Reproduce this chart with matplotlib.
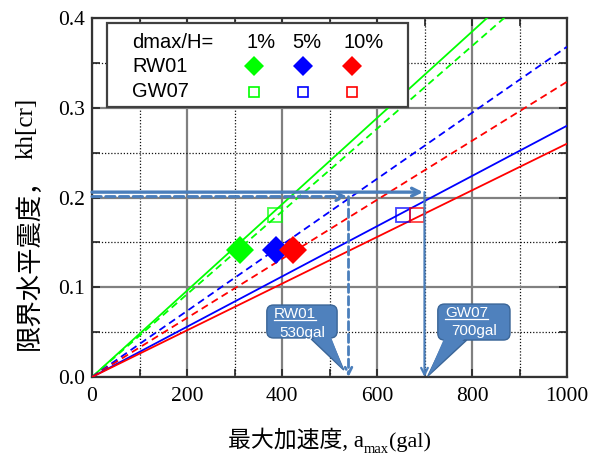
import matplotlib
matplotlib.use("Agg")
import matplotlib.pyplot as plt
from matplotlib.patches import FancyBboxPatch, Polygon, Rectangle
from matplotlib.lines import Line2D
import numpy as np

# ---------------- data ----------------
amax_range = [0, 1000]
# kh[cr] reached at amax = 1000 gal for each design line
line_names = ["RW01 1%", "GW07 1%", "GW07 5%", "GW07 10%", "RW01 5%", "RW01 10%"]
line_kh_at_1000 = [0.481, 0.461, 0.368, 0.329, 0.280, 0.260]
line_colors = ["#00FF00", "#00FF00", "#0000FF", "#FF0000", "#0000FF", "#FF0000"]
line_styles = ["-", "--", "--", "--", "-", "-"]

rw01_amax = [311, 388, 423]
rw01_kh = [0.142, 0.142, 0.142]
gw07_amax = [385, 654, 685]
gw07_kh = [0.180, 0.180, 0.180]
marker_colors = ["#00FF00", "#0000FF", "#FF0000"]
pct_labels = ["1%", "5%", "10%"]

rw01_arrow_x, rw01_arrow_y = 540, 0.201
gw07_arrow_x, gw07_arrow_y = 700, 0.206
rw01_note = ["RW01", "530gal"]
gw07_note = ["GW07", "700gal"]

xticks = [0, 200, 400, 600, 800, 1000]
yticks = [0.0, 0.1, 0.2, 0.3, 0.4]

serif = ["Liberation Serif", "Noto Sans CJK JP"]
sans = ["Liberation Sans", "DejaVu Sans"]
cjk = ["Noto Sans CJK JP", "DejaVu Sans"]
arrow_col = "#4A7EBB"
call_fill = "#4F81BD"
call_edge = "#3A6597"

W, H = 603, 455
fig = plt.figure(figsize=(W / 100, H / 100), dpi=100)
ax = fig.add_axes([0.1526, 0.1714, 0.7877, 0.789])

ax.set_xlim(0, 1000)
ax.set_ylim(0, 0.4)
ax.set_xticks(xticks)
ax.set_yticks(yticks)
ax.set_xticks(np.arange(100, 1000, 200), minor=True)
ax.set_yticks(np.arange(0.05, 0.4, 0.1), minor=True)
ax.set_xticklabels([str(v) for v in xticks], fontfamily=serif, fontsize=15.5)
ax.set_yticklabels([f"{v:.1f}" for v in yticks], fontfamily=serif, fontsize=15.5)
ax.tick_params(which="both", direction="in", top=True, right=True, length=6, width=1.2, color="#222222")
ax.tick_params(axis="x", pad=7)
ax.tick_params(axis="y", pad=5)
ax.grid(which="major", color="#808080", linewidth=1.6, linestyle="-")
ax.grid(which="minor", color="#111111", linewidth=0.9, linestyle=(0, (1, 1.5)))
ax.set_axisbelow(True)
for s in ax.spines.values():
    s.set_linewidth(1.6)
    s.set_color("#333333")

# lines
for kh, c, ls in zip(line_kh_at_1000, line_colors, line_styles):
    ax.plot(amax_range, [0, kh], color=c, linestyle=ls if ls == "-" else (0, (4, 2.5)),
            linewidth=1.3, zorder=3)

# markers
for x, y, c in zip(rw01_amax, rw01_kh, marker_colors):
    ax.plot([x], [y], marker="D", markersize=14, color=c, markeredgewidth=0, zorder=4)
for x, y, c in zip(gw07_amax, gw07_kh, marker_colors):
    ax.plot([x], [y], marker="s", markersize=10.5, markerfacecolor="none",
            markeredgecolor=c, markeredgewidth=1.3, alpha=0.75, zorder=4)

# arrows
ax.annotate("", xy=(gw07_arrow_x - 3, gw07_arrow_y), xytext=(0, gw07_arrow_y),
            arrowprops=dict(arrowstyle="->", color=arrow_col, lw=2.4,
                            shrinkA=0, shrinkB=0, mutation_scale=14), zorder=5)
ax.annotate("", xy=(gw07_arrow_x, 0.0), xytext=(gw07_arrow_x, gw07_arrow_y),
            arrowprops=dict(arrowstyle="->", color=arrow_col, lw=1.6,
                            shrinkA=0, shrinkB=0, mutation_scale=12), zorder=5)
ax.annotate("", xy=(rw01_arrow_x - 3, rw01_arrow_y), xytext=(0, rw01_arrow_y),
            arrowprops=dict(arrowstyle="->", color=arrow_col, lw=2.2, linestyle=(0, (3, 1.5)),
                            shrinkA=0, shrinkB=0, mutation_scale=14), zorder=5)
ax.annotate("", xy=(rw01_arrow_x, 0.0), xytext=(rw01_arrow_x, rw01_arrow_y),
            arrowprops=dict(arrowstyle="->", color=arrow_col, lw=2.0, linestyle=(0, (3, 1.5)),
                            shrinkA=0, shrinkB=0, mutation_scale=12), zorder=5)

# callouts
aspect = (0.4 / 359.0) / (1000 / 475.0)  # kh per px / gal per px

def callout(x0, x1, y0, y1, tail, texts, tx, ty1, ty2):
    box = FancyBboxPatch((x0, y0), x1 - x0, y1 - y0,
                         boxstyle="round,pad=0,rounding_size=14",
                         mutation_aspect=aspect, facecolor=call_fill, edgecolor=call_edge,
                         linewidth=1.0, zorder=6)
    ax.add_patch(box)
    tp = Polygon(tail, closed=True, facecolor=call_fill, edgecolor=call_edge,
                 linewidth=1.0, zorder=5.9)
    ax.add_patch(tp)
    t2 = [list(p) for p in tail]
    t2[0][1] += 0.004
    t2[2][1] += 0.004
    ax.add_patch(Polygon(t2, closed=True, facecolor=call_fill, edgecolor="none", zorder=6.1))
    a = ax.text(tx, ty1, texts[0], color="white", fontsize=11, fontfamily=sans,
                va="center", ha="left", zorder=7)
    ax.text(tx + 12, ty2, texts[1], color="white", fontsize=11, fontfamily=sans,
            va="center", ha="left", zorder=7)
    return a

rw_txt = callout(368, 516, 0.0435, 0.0802,
                 [(459, 0.0435), (530, 0.0078), (501, 0.0435)],
                 rw01_note, 383, 0.070, 0.049)
gw_txt = callout(728, 880, 0.0412, 0.0813,
                 [(743, 0.0412), (707, 0.001), (789, 0.0412)],
                 gw07_note, 744, 0.071, 0.051)

# legend box (axes fraction)
T = ax.transAxes
ax.add_patch(Rectangle((0.0316, 0.752), 0.6334, 0.234, transform=T, facecolor="white",
                       edgecolor="#404040", linewidth=1.6, zorder=8))
lfs = 14.5
ax.text(0.084, 0.933, "dmax/H=", transform=T, fontsize=lfs, fontfamily=sans,
        va="center", ha="left", zorder=9)
ax.text(0.084, 0.866, "RW01", transform=T, fontsize=lfs, fontfamily=sans,
        va="center", ha="left", zorder=9)
ax.text(0.084, 0.794, "GW07", transform=T, fontsize=lfs, fontfamily=sans,
        va="center", ha="left", zorder=9)
text_x = [0.356, 0.453, 0.571]
mark_x = [0.34, 0.444, 0.547]
for lbl, c, txx, mx in zip(pct_labels, marker_colors, text_x, mark_x):
    ax.text(txx, 0.933, lbl, transform=T, fontsize=lfs, fontfamily=sans,
            va="center", ha="center", zorder=9)
    ax.plot([mx], [0.866], transform=T, marker="D", markersize=10, color=c,
            markeredgewidth=0, zorder=9, clip_on=False)
    ax.plot([mx], [0.794], transform=T, marker="s", markersize=7, markerfacecolor="none",
            markeredgecolor=c, markeredgewidth=1.2, zorder=9, clip_on=False)

fig.canvas.draw()
r = fig.canvas.get_renderer()

# y label built from pieces (rotated, stacked bottom to top)
ypieces = [("限界水平震度，", cjk, 19, 29, 0), ("kh[cr]", serif, 18, 27, 8)]
yobjs = [(fig.text(0, 0, s, fontsize=fs, fontfamily=fam, rotation=90,
                   ha="center", va="bottom"), xc, gap) for s, fam, fs, xc, gap in ypieces]
fig.canvas.draw()
ypos = H - 350
for t, xc, gap in yobjs:
    ypos += gap
    t.set_position((xc / W, ypos / H))
    ypos += t.get_window_extent(r).height - 2

# x label built from pieces (main text, subscript, rest)
pieces = [("最大加速度, a", 16.5, 0), ("max", 10.5, -6), ("(gal)", 16, 0)]
objs = []
for s, fs, dy in pieces:
    t = fig.text(0, 0, s, fontsize=fs, fontfamily=serif, ha="left", va="baseline")
    objs.append((t, dy))
fig.canvas.draw()
widths = [t.get_window_extent(r).width for t, _ in objs]
total = sum(widths)
cx = 92 + 475 / 2
x = cx - total / 2
base_y = H - 447
for (t, dy), w in zip(objs, widths):
    t.set_position((x / W, (base_y + dy) / H))
    x += w

# underline callout titles
inv = ax.transData.inverted()
for t in (rw_txt, gw_txt):
    bb = t.get_window_extent(r)
    (xa, ya), (xb, yb) = inv.transform([(bb.x0, bb.y0), (bb.x1, bb.y0)])
    ax.add_line(Line2D([xa, xb], [ya + 0.0015, yb + 0.0015], color="white", lw=0.9, zorder=7))

fig.savefig("out.png", dpi=100)
